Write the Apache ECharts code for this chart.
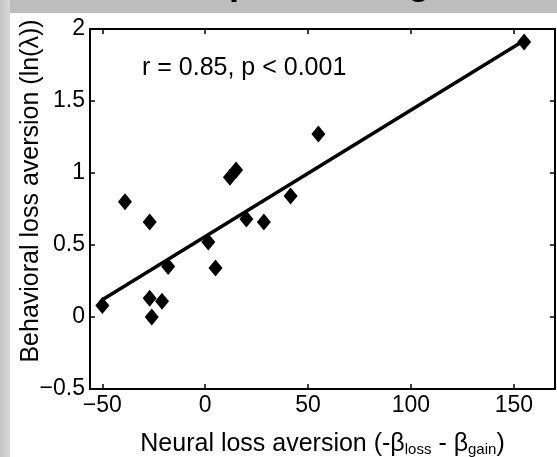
<!DOCTYPE html>
<html>
<head>
<meta charset="utf-8">
<script src="https://cdn.jsdelivr.net/npm/echarts@6/dist/echarts.min.js"></script>
<style>
  html, body { margin: 0; padding: 0; background: #fff; }
</style>
</head>
<body>
<div id="chart" style="width: 557px; height: 457px"></div>
<script>
// neural vs behavioral loss aversion, one diamond per subject
const neuralLA = [-50, -39, -27, -27, -26, -21, -18, 1.5, 5, 12, 15, 20, 28.5, 41.5, 55, 155]
const behavLA = [0.08, 0.8, 0.66, 0.13, 0.0, 0.11, 0.35, 0.52, 0.34, 0.97, 1.02, 0.68, 0.66, 0.84, 1.27, 1.91]

// regression line endpoints
const fitX = [-50, 155]
const fitY = [0.12, 1.92]

const xTicks = [-50, 0, 50, 100, 150]
const statText = 'r = 0.85, p < 0.001'

const font = '"Liberation Sans", Arial, sans-serif'
const minus = v => String(v).replace('-', '\u2212')

const chart = echarts.init(document.getElementById('chart'))

const boxAxis = {
  axisLine: { show: true, onZero: false, lineStyle: { color: '#000', width: 2 } },
  axisTick: { show: true, inside: true, length: 5, lineStyle: { color: '#000', width: 1.5 } },
  splitLine: { show: false },
}

const option = {
  animation: false,
  backgroundColor: '#fff',
  grid: { left: 90, right: 2, top: 29, bottom: 68, containLabel: false, outerBoundsMode: 'none' },
  xAxis: [
    {
      ...boxAxis,
      type: 'value',
      position: 'bottom',
      min: -56,
      max: 170,
      name: 'Neural loss aversion (-{s|β}{sub|loss} - {s|β}{sub|gain})',
      nameLocation: 'middle',
      nameGap: 43,
      nameMoveOverlap: false,
      nameTextStyle: {
        fontFamily: font,
        fontSize: 25,
        color: '#000',
        rich: {
          s: { fontFamily: font, fontSize: 25, color: '#000' },
          sub: { fontFamily: font, fontSize: 15, color: '#000', verticalAlign: 'bottom', padding: [10, 0, 0, 0] },
        },
      },
      axisTick: { ...boxAxis.axisTick, customValues: xTicks },
      axisLabel: {
        customValues: xTicks,
        formatter: minus,
        fontFamily: font,
        fontSize: 23,
        color: '#000',
        margin: 5,
      },
    },
    {
      ...boxAxis,
      type: 'value',
      position: 'top',
      min: -56,
      max: 170,
      axisTick: { ...boxAxis.axisTick, customValues: xTicks },
      axisLabel: { show: false },
    },
  ],
  yAxis: [
    {
      ...boxAxis,
      type: 'value',
      position: 'left',
      min: -0.5,
      max: 2,
      interval: 0.5,
      name: 'Behavioral loss aversion (ln(λ))',
      nameLocation: 'middle',
      nameGap: 46,
      nameMoveOverlap: false,
      nameTextStyle: {
        fontFamily: font,
        fontSize: 25,
        color: '#000',
        padding: [0, 0, 0, 36],
      },
      axisLabel: {
        formatter: minus,
        fontFamily: font,
        fontSize: 23,
        color: '#000',
        margin: 5,
      },
    },
    {
      ...boxAxis,
      type: 'value',
      position: 'right',
      min: -0.5,
      max: 2,
      interval: 0.5,
      axisLabel: { show: false },
    },
  ],
  graphic: [
    // grey frame left over from the slide the figure was cut from
    {
      type: 'rect',
      shape: { x: 0, y: 0, width: 557, height: 13 },
      style: { fill: '#bdbdbd' },
      silent: true,
    },
    {
      type: 'rect',
      shape: { x: 0, y: 0, width: 10, height: 457 },
      style: {
        fill: new echarts.graphic.LinearGradient(0, 0, 1, 0, [
          { offset: 0, color: '#c4c4c4' },
          { offset: 1, color: '#d8d8d8' },
        ]),
      },
      silent: true,
    },
    {
      type: 'text',
      left: 229,
      top: -34,
      style: { text: 'p', font: 'bold 36px ' + font, fill: '#000' },
      silent: true,
    },
    {
      type: 'text',
      left: 408,
      top: -34,
      style: { text: 'g', font: 'bold 36px ' + font, fill: '#000' },
      silent: true,
    },
    {
      type: 'text',
      left: 142,
      top: 56,
      style: { text: statText, font: '25px ' + font, fill: '#000' },
      silent: true,
    },
  ],
  series: [
    {
      type: 'scatter',
      xAxisIndex: 0,
      yAxisIndex: 0,
      symbol: 'diamond',
      symbolSize: [14, 17],
      itemStyle: { color: '#000', opacity: 1 },
      data: neuralLA.map((x, i) => [x, behavLA[i]]),
      z: 2,
    },
    {
      type: 'line',
      xAxisIndex: 0,
      yAxisIndex: 0,
      showSymbol: false,
      lineStyle: { color: '#000', width: 3.5 },
      data: fitX.map((x, i) => [x, fitY[i]]),
      z: 3,
    },
  ],
}

chart.setOption(option)
</script>
</body>
</html>
